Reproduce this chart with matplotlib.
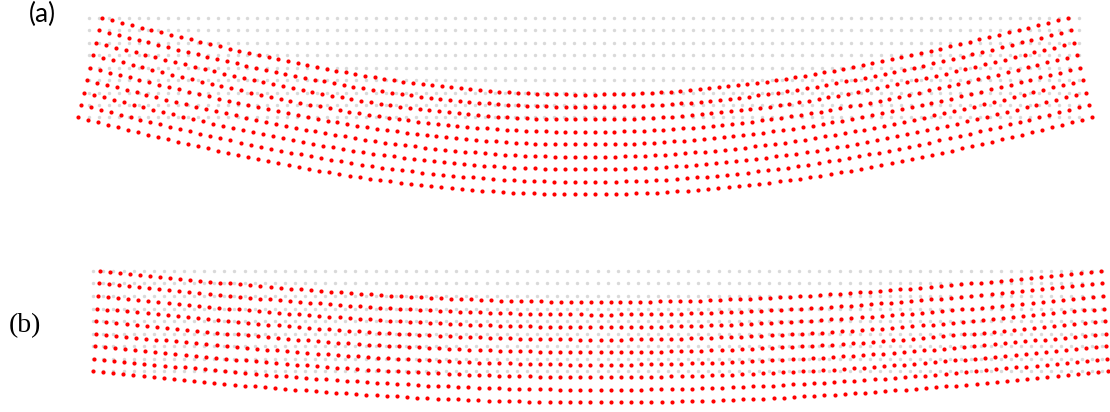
import numpy as np
import matplotlib.pyplot as plt

# undeformed beam: 101 x 9 nodes, length 10, depth 1
n_cols = 101
n_rows = 9
beam_len = 10.0
beam_h = 1.0

# deflected shape along half the span (normalised to mid-span value)
shape_half = [0.0, 0.0320, 0.0639, 0.0958, 0.1276, 0.1592, 0.1907, 0.2219, 0.2529, 0.2835,
              0.3139, 0.3439, 0.3736, 0.4029, 0.4317, 0.4600, 0.4879, 0.5152, 0.5420, 0.5683,
              0.5939, 0.6190, 0.6434, 0.6671, 0.6901, 0.7125, 0.7341, 0.7550, 0.7752, 0.7945,
              0.8131, 0.8309, 0.8478, 0.8640, 0.8792, 0.8936, 0.9071, 0.9198, 0.9315, 0.9424,
              0.9523, 0.9613, 0.9694, 0.9766, 0.9828, 0.9880, 0.9923, 0.9957, 0.9981, 0.9995, 1.0]
# cross-section rotation along half the span (normalised to support value)
rot_half = [1.0, 0.9994, 0.9976, 0.9947, 0.9907, 0.9855, 0.9793, 0.9720, 0.9636, 0.9543,
            0.9440, 0.9327, 0.9205, 0.9074, 0.8934, 0.8785, 0.8628, 0.8463, 0.8289, 0.8108,
            0.7920, 0.7724, 0.7522, 0.7313, 0.7097, 0.6875, 0.6647, 0.6413, 0.6174, 0.5930,
            0.5680, 0.5426, 0.5167, 0.4903, 0.4636, 0.4365, 0.4090, 0.3812, 0.3531, 0.3247,
            0.2960, 0.2671, 0.2380, 0.2086, 0.1791, 0.1495, 0.1197, 0.0899, 0.0600, 0.0300, 0.0]

# mid-span deflection, support rotation and axial offset
defl_a, rot_a, shift_a = 0.77, 0.245, 0.01
defl_b, rot_b, shift_b = 0.31, 0.065, 0.03

W, H = 1110, 412
fig = plt.figure(figsize=(W / 100, H / 100), dpi=100)

shape = np.array(shape_half + shape_half[-2::-1])
rot = np.array(rot_half + [-v for v in rot_half[-2::-1]])
xg = np.linspace(0, beam_len, n_cols)
yg = np.linspace(beam_h / 2, -beam_h / 2, n_rows)
X, Y = np.meshgrid(xg, yg)


def panel(x0, x1, y_top, y_bot, ylim, defl, theta, shift):
    # x0/x1 : pixel of x=0 / x=L, y_top/y_bot : pixel of top / bottom fibre
    xlim = (-0.3, 10.4)
    sx = (x1 - x0) / beam_len
    sy = (y_bot - y_top) / beam_h
    left = x0 + xlim[0] * sx
    right = x0 + xlim[1] * sx
    top = y_top - (ylim[1] - 0.5) * sy
    bot = y_top + (0.5 - ylim[0]) * sy
    ax = fig.add_axes([left / W, 1 - bot / H, (right - left) / W, (bot - top) / H])
    ax.set_xlim(xlim)
    ax.set_ylim(ylim)
    ax.axis('off')
    ax.scatter(X.ravel(), Y.ravel(), s=6, color='#d9d9d9', linewidths=0, clip_on=False)
    Xd = X + shift + Y * theta * rot[None, :]
    Yd = Y - defl * shape[None, :]
    ax.scatter(Xd.ravel(), Yd.ravel(), s=9, color='#ff0000', linewidths=0, clip_on=False)
    return ax


panel(89, 1079, 17.7, 117.5, (-1.5, 0.65), defl_a, rot_a, shift_a)
panel(93.3, 1101.7, 270.9, 371.2, (-0.9, 0.6), defl_b, rot_b, shift_b)

fig.text(42 / W, 1 - 14 / H, '(a)', ha='center', va='center', fontsize=19, family='Lato')
fig.text(25 / W, 1 - 326 / H, '(b)', ha='center', va='center', fontsize=20, family='Liberation Serif')

fig.savefig('out.png', dpi=100)
